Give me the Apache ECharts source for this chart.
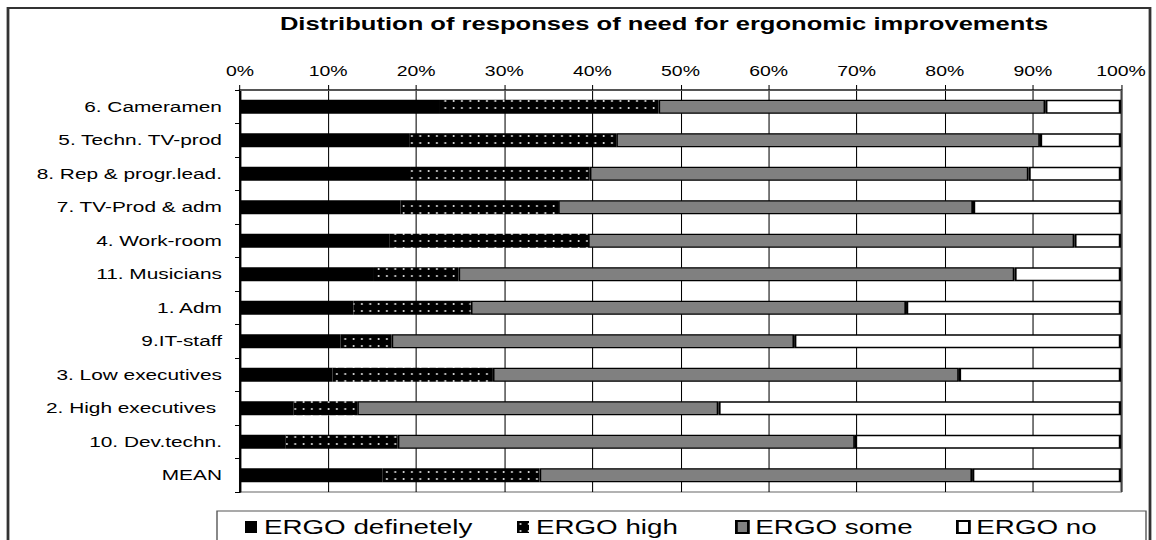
<!DOCTYPE html>
<html><head><meta charset="utf-8">
<script src="https://cdn.jsdelivr.net/npm/echarts@6/dist/echarts.min.js"></script>
<style>
html,body{margin:0;padding:0;background:#fff;overflow:hidden;width:1156px;height:540px}
#c{width:832px;height:540px;transform:scaleX(1.389423);transform-origin:0 0;}
</style>
</head><body><div id="c"></div>
<script>
const categories = ['6. Cameramen','5. Techn. TV-prod','8. Rep & progr.lead.','7. TV-Prod & adm','4. Work-room','11. Musicians','1. Adm','9.IT-staff','3. Low executives','2. High executives ','10. Dev.techn.','MEAN'];
const seriesNames = ['ERGO definetely','ERGO high','ERGO some','ERGO no'];
const ergoDefinetely = [22.7,19.2,19.3,18.2,17.0,15.1,12.9,11.4,10.5,6.1,5.2,16.2];
const ergoHigh       = [24.8,23.5,20.4,17.9,22.5,9.7,13.3,5.8,18.2,7.2,12.7,17.8];
const ergoSome       = [43.9,48.1,49.8,47.1,55.2,63.1,49.4,45.7,52.9,41.0,51.9,49.1];
const ergoNo         = [8.6,9.2,10.5,16.8,5.3,12.1,24.4,37.1,18.4,45.7,30.2,16.9];
const tickFormat = '{value}%';
const titleText = 'Distribution of responses of need for ergonomic improvements';

const S = 1156/832;
const FONT = 'Liberation Sans, Arial, sans-serif';

// dotted pattern (black with white dots)
const pc = document.createElement('canvas');
pc.width = 6; pc.height = 7;
const pctx = pc.getContext('2d');
pctx.fillStyle = '#000'; pctx.fillRect(0,0,6,7);
pctx.fillStyle = '#ffffff'; pctx.fillRect(2,2,1,2);
const dotPattern = {image: pc, repeat: 'repeat'};

const chart = echarts.init(document.getElementById('c'), null, {renderer:'svg'});
const legendX = [245/S, 517/S, 735/S, 956/S];

const option = {
  animation: false,
  backgroundColor: '#fff',
  textStyle: {fontFamily: FONT},
  graphic: [
    {type:'rect', shape:{x:8/S, y:8, width:1142/S, height:620}, style:{fill:'none', stroke:'#333', lineWidth:2}, z:0},
    {type:'rect', shape:{x:217/S, y:511, width:929/S, height:60}, style:{fill:'none', stroke:'#555', lineWidth:1}, z:0},
    {type:'text', x:664/S, y:24, style:{text:titleText, font:'bold 18.4px ' + FONT, fill:'#000', align:'center', verticalAlign:'middle'}}
  ],
  grid: {left:240/S, right:832-1121/S, top:90, bottom:48, show:true, borderColor:'#999', borderWidth:1.5, backgroundColor:'#fff'},
  xAxis: {
    type:'value', position:'top', min:0, max:100, interval:10,
    axisLabel:{formatter:tickFormat, fontSize:14, color:'#000', margin:12, fontFamily:FONT},
    axisLine:{show:true, lineStyle:{color:'#555', width:2}},
    axisTick:{show:true, length:5, lineStyle:{color:'#000', width:0.75}},
    splitLine:{show:true, lineStyle:{color:'#000', width:0.75}}
  },
  yAxis: {
    type:'category', data:categories, inverse:true,
    axisLine:{show:true, lineStyle:{color:'#000', width:1.5}},
    axisTick:{show:true, length:3.6, lineStyle:{color:'#000', width:1}},
    axisLabel:{fontSize:15, color:'#000', margin:13, fontFamily:FONT}
  },
  legend: seriesNames.map((n,i)=>({
    data:[n], left:legendX[i], top:517, padding:0, selectedMode:false,
    icon:'rect', itemWidth:12/S, itemHeight:12,
    textStyle:{fontSize:20, color:'#000', fontFamily:FONT}
  })),
  series: [
    {name:seriesNames[0], type:'bar', stack:'a', barWidth:14, data:ergoDefinetely, itemStyle:{color:'#000'}},
    {name:seriesNames[1], type:'bar', stack:'a', barWidth:14, data:ergoHigh, itemStyle:{color:dotPattern, borderColor:'#000', borderWidth:0}},
    {name:seriesNames[2], type:'bar', stack:'a', barWidth:14, data:ergoSome, itemStyle:{color:'#808080', borderColor:'#000', borderWidth:1.2}},
    {name:seriesNames[3], type:'bar', stack:'a', barWidth:14, data:ergoNo, itemStyle:{color:'#fff', borderColor:'#000', borderWidth:1.6}}
  ]
};
chart.setOption(option);
</script></body></html>
